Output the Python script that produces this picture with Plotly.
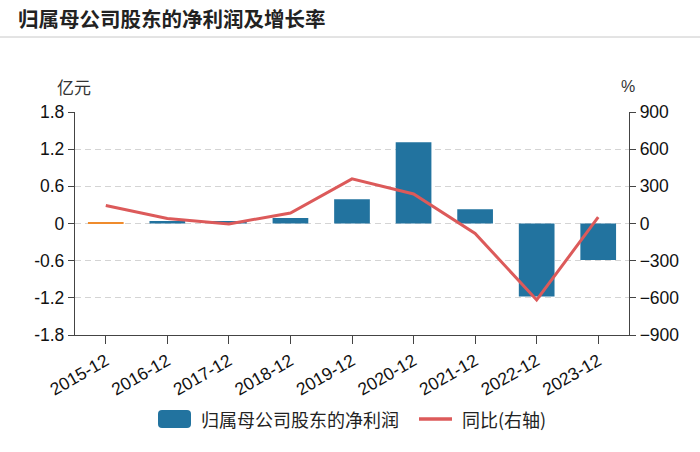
import plotly.graph_objects as go

categories = ["2015-12", "2016-12", "2017-12", "2018-12", "2019-12",
              "2020-12", "2021-12", "2022-12", "2023-12"]
net_profit = [0.02, 0.04, 0.04, 0.09, 0.39, 1.31, 0.23, -1.18, -0.59]
yoy_growth = [145, 40, -3, 85, 360, 238, -80, -617, 51]
bar_colors = ["#ef8b2c"] + ["#22739f"] * 8
series_names = ["归属母公司股东的净利润", "同比(右轴)"]

W, H = 700, 452
L, R, T, B = 75, 71, 112, 117
pw = W - L - R
ph = H - T - B


def px(x):
    return (x - L) / pw


def py(y):
    return (T + ph - y) / ph


fig = go.Figure()
fig.add_trace(go.Bar(
    x=categories, y=net_profit, name=series_names[0],
    marker=dict(color=bar_colors, line=dict(width=0)),
    yaxis="y", showlegend=False,
))
fig.add_trace(go.Scatter(
    x=categories, y=yoy_growth, name=series_names[1], mode="lines",
    line=dict(color="#dc5a5a", width=3), yaxis="y2", showlegend=False,
))

font_fam = "Liberation Sans, Arial, Noto Sans CJK SC, sans-serif"
cjk = "Noto Sans CJK SC, sans-serif"
tick_font = dict(family=font_fam, size=17.5, color="#111")

# rounded rectangle swatch path (legend)
x0, x1, y0, y1, r = px(158), px(191), py(410), py(428), 4
rx, ry = r / pw, r / ph
swatch = (f"M {x0+rx},{y0} L {x1-rx},{y0} Q {x1},{y0} {x1},{y0-ry} "
          f"L {x1},{y1+ry} Q {x1},{y1} {x1-rx},{y1} L {x0+rx},{y1} "
          f"Q {x0},{y1} {x0},{y1+ry} L {x0},{y0-ry} Q {x0},{y0} {x0+rx},{y0} Z")

fig.update_layout(
    width=W, height=H,
    margin=dict(l=L, r=R, t=T, b=B, pad=0, autoexpand=False),
    paper_bgcolor="white", plot_bgcolor="white",
    bargap=0.42,
    showlegend=False,
    font=dict(family=font_fam, size=14, color="#222"),
    xaxis=dict(
        type="category", showgrid=False, showline=True, linecolor="#444", linewidth=1.3,
        ticks="outside", ticklen=8, tickcolor="#444", tickangle=-30,
        tickfont=tick_font, zeroline=False, automargin=False,
        range=[-0.5, 8.5],
    ),
    yaxis=dict(
        range=[-1.8, 1.8], tickvals=[-1.8, -1.2, -0.6, 0, 0.6, 1.2, 1.8],
        ticktext=["-1.8", "-1.2", "-0.6", "0", "0.6", "1.2", "1.8"],
        showgrid=True, gridcolor="#d4d4d4", griddash="6px,4px", gridwidth=1,
        showline=True, linecolor="#444", linewidth=1.3,
        ticks="outside", ticklen=6, tickcolor="#444",
        tickfont=tick_font, zeroline=False, automargin=False,
    ),
    yaxis2=dict(
        range=[-900, 900], tickvals=[-900, -600, -300, 0, 300, 600, 900],
        overlaying="y", side="right", showgrid=False,
        showline=True, linecolor="#444", linewidth=1.3,
        ticks="outside", ticklen=6, tickcolor="#444",
        tickfont=tick_font, zeroline=False, automargin=False,
    ),
    annotations=[
        dict(text="<b>归属母公司股东的净利润及增长率</b>", xref="paper", yref="paper",
             x=px(16), y=py(18), xanchor="left", yanchor="middle",
             showarrow=False, font=dict(family=cjk, size=20.5, color="#222")),
        dict(text="亿元", xref="paper", yref="paper",
             x=px(74), y=py(86), xanchor="center", yanchor="middle",
             showarrow=False, font=dict(family=cjk, size=17, color="#333")),
        dict(text="%", xref="paper", yref="paper",
             x=px(628), y=py(86), xanchor="center", yanchor="middle",
             showarrow=False, font=dict(family=font_fam, size=16, color="#333")),
        dict(text=series_names[0], xref="paper", yref="paper",
             x=px(199), y=py(419), xanchor="left", yanchor="middle",
             showarrow=False, font=dict(family=cjk, size=18, color="#222")),
        dict(text=series_names[1], xref="paper", yref="paper",
             x=px(460), y=py(419), xanchor="left", yanchor="middle",
             showarrow=False, font=dict(family=cjk, size=18, color="#222")),
    ],
    shapes=[
        dict(type="line", xref="paper", yref="paper",
             x0=px(0), x1=px(W), y0=py(37), y1=py(37),
             line=dict(color="#c8c8c8", width=1)),
        dict(type="path", xref="paper", yref="paper", path=swatch,
             fillcolor="#22739f", line=dict(width=0)),
        dict(type="line", xref="paper", yref="paper",
             x0=px(419), x1=px(452), y0=py(419), y1=py(419),
             line=dict(color="#dc5a5a", width=3.5)),
    ],
)

fig.write_html("out.html", config={"displayModeBar": False},
               post_script="document.body.style.margin='0';document.body.style.overflow='hidden';")
